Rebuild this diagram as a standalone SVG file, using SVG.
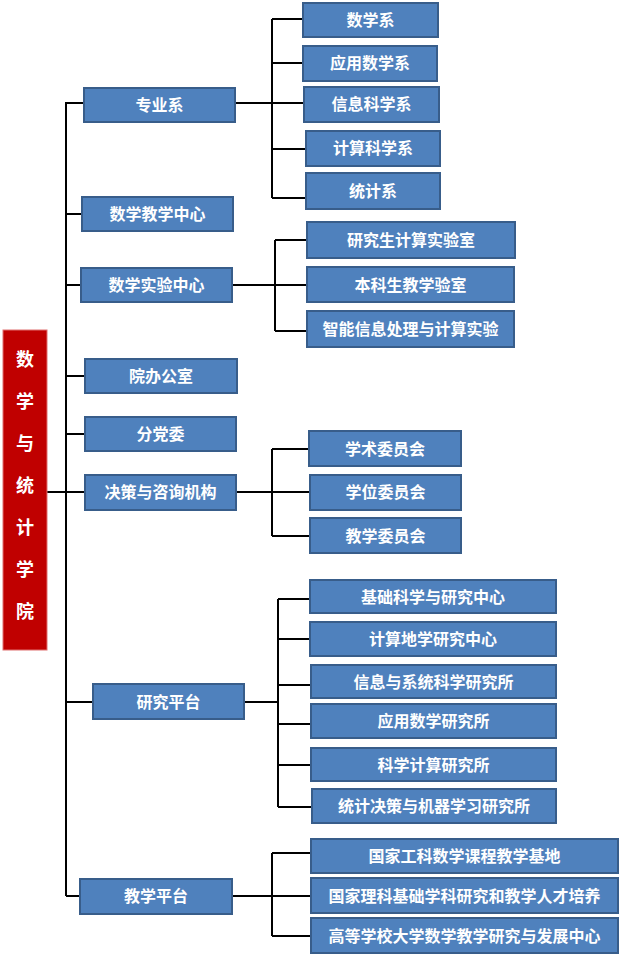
<svg xmlns="http://www.w3.org/2000/svg" width="621" height="955" viewBox="0 0 621 955">
<style>
.box{fill:#4F81BD;stroke:#385D8A;stroke-width:2}
.halo{fill:none;stroke:#B8C8DE;stroke-width:1}
.t{fill:#FFFFFF;font-family:"Noto Sans CJK SC","Liberation Sans",sans-serif;font-size:16px;font-weight:bold;text-anchor:middle}
.rt{fill:#FFFFFF;font-family:"Noto Sans CJK SC","Liberation Sans",sans-serif;font-size:18px;font-weight:bold;text-anchor:middle}
.ln{stroke:#000000;stroke-width:2;fill:none}
</style>
<rect width="621" height="955" fill="#FFFFFF"/>
<g id="connectors">
<path class="ln" d="M66,102 V896 M47,492 H85 M66,103 H84 M66,214 H82 M66,285 H81 M66,376 H85 M66,434 H85 M66,702 H93 M66,896 H80"/>
<path class="ln" d="M235,103 H272 M272,19 V198 M272,19 H303 M272,63 H303 M272,103 H304 M272,149 H306 M272,198 H306"/>
<path class="ln" d="M232,285 H275 M275,240 V331 M275,240 H307 M275,285 H307 M275,331 H307"/>
<path class="ln" d="M236,492 H272 M272,449 V536 M272,449 H309 M272,492 H310 M272,536 H310"/>
<path class="ln" d="M244,702 H278 M278,599 V807 M278,599 H310 M278,639 H310 M278,685 H311 M278,724 H311 M278,765 H311 M278,807 H312"/>
<path class="ln" d="M232,896 H272 M272,853 V936 M272,853 H311 M272,896 H311 M272,936 H311"/>
</g>
<g id="root">
<rect x="3" y="330" width="44" height="320" fill="#C00000" stroke="#E07070" stroke-width="1"/>
<text class="rt" x="25" y="366">数</text>
<text class="rt" x="25" y="408">学</text>
<text class="rt" x="25" y="450">与</text>
<text class="rt" x="25" y="492">统</text>
<text class="rt" x="25" y="534">计</text>
<text class="rt" x="25" y="576">学</text>
<text class="rt" x="25" y="618">院</text>
</g>
<g id="n-zyx"><rect class="box" x="84" y="88" width="151" height="34"/><text class="t" x="159.5" y="111">专业系</text></g>
<g id="n-sxjxzx"><rect class="box" x="82" y="197" width="151" height="34"/><text class="t" x="157.5" y="220">数学教学中心</text></g>
<g id="n-sxsyzx"><rect class="box" x="81" y="268" width="151" height="34"/><text class="t" x="156.5" y="291">数学实验中心</text></g>
<g id="n-ybgs"><rect class="box" x="85" y="359" width="152" height="34"/><text class="t" x="161" y="382">院办公室</text></g>
<g id="n-fdw"><rect class="box" x="85" y="417" width="151" height="34"/><text class="t" x="160.5" y="440">分党委</text></g>
<g id="n-jczx"><rect class="box" x="85" y="475" width="151" height="35"/><text class="t" x="160.5" y="498">决策与咨询机构</text></g>
<g id="n-yjpt"><rect class="box" x="93" y="684" width="151" height="35"/><text class="t" x="168.5" y="708">研究平台</text></g>
<g id="n-jxpt"><rect class="box" x="80" y="879" width="152" height="35"/><text class="t" x="156" y="902">教学平台</text></g>

<g id="n-sxx"><rect class="box" x="303" y="3" width="135" height="34"/><text class="t" x="370.5" y="26">数学系</text></g>
<g id="n-yysxx"><rect class="box" x="303" y="46" width="134" height="35"/><text class="t" x="370" y="69">应用数学系</text></g>
<g id="n-xxkxx"><rect class="box" x="304" y="87" width="135" height="35"/><text class="t" x="371.5" y="110">信息科学系</text></g>
<g id="n-jskxx"><rect class="box" x="306" y="131" width="134" height="35"/><text class="t" x="373" y="154">计算科学系</text></g>
<g id="n-tjx"><rect class="box" x="306" y="173" width="134" height="36"/><text class="t" x="373" y="197">统计系</text></g>

<g id="n-yjs"><rect class="box" x="307" y="222" width="208" height="36"/><text class="t" x="411" y="246">研究生计算实验室</text></g>
<g id="n-bks"><rect class="box" x="307" y="267" width="207" height="35"/><text class="t" x="410.5" y="291">本科生教学验室</text></g>
<g id="n-znxx"><rect class="box" x="307" y="311" width="207" height="36"/><text class="t" x="410.5" y="335">智能信息处理与计算实验</text></g>

<g id="n-xswyh"><rect class="box" x="309" y="431" width="152" height="35"/><text class="t" x="385" y="455">学术委员会</text></g>
<g id="n-xwwyh"><rect class="box" x="310" y="475" width="151" height="35"/><text class="t" x="385.5" y="498">学位委员会</text></g>
<g id="n-jxwyh"><rect class="box" x="310" y="518" width="151" height="35"/><text class="t" x="385.5" y="542">教学委员会</text></g>

<g id="n-jckx"><rect class="box" x="310" y="580" width="246" height="33"/><text class="t" x="433" y="603">基础科学与研究中心</text></g>
<g id="n-jsdx"><rect class="box" x="310" y="622" width="246" height="34"/><text class="t" x="433" y="645">计算地学研究中心</text></g>
<g id="n-xxxt"><rect class="box" x="311" y="665" width="245" height="33"/><text class="t" x="433.5" y="688">信息与系统科学研究所</text></g>
<g id="n-yysx"><rect class="box" x="311" y="704" width="245" height="34"/><text class="t" x="433.5" y="727">应用数学研究所</text></g>
<g id="n-kxjs"><rect class="box" x="311" y="748" width="245" height="33"/><text class="t" x="433.5" y="771">科学计算研究所</text></g>
<g id="n-tjjc"><rect class="box" x="312" y="789" width="244" height="34"/><text class="t" x="434" y="812">统计决策与机器学习研究所</text></g>

<g id="n-gjgk"><rect class="box" x="311" y="839" width="307" height="34"/><text class="t" x="464.5" y="862">国家工科数学课程教学基地</text></g>
<g id="n-gjlk"><rect class="box" x="311" y="878" width="307" height="35"/><text class="t" x="464.5" y="902">国家理科基础学科研究和教学人才培养</text></g>
<g id="n-gdxx"><rect class="box" x="311" y="918" width="307" height="35"/><text class="t" x="464.5" y="942">高等学校大学数学教学研究与发展中心</text></g>
</svg>
